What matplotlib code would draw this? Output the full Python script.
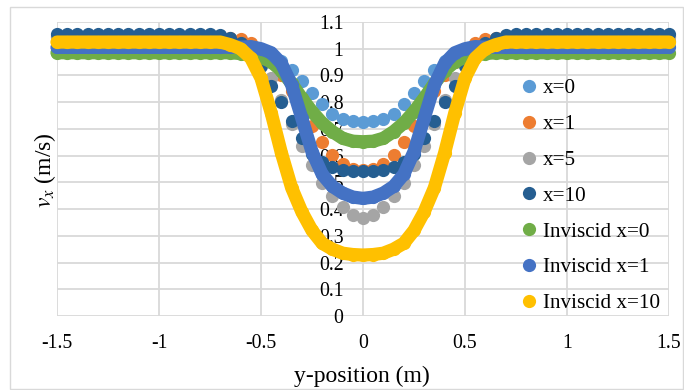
#!/usr/bin/env python3
"""Velocity profiles v_x across y-position, viscous vs inviscid"""

import numpy as np
import matplotlib
matplotlib.use("Agg")
import matplotlib.pyplot as plt
from matplotlib.patches import Rectangle

plt.rcParams['font.family'] = ['Liberation Serif', 'DejaVu Serif']
plt.rcParams['mathtext.fontset'] = 'stix'
plt.rcParams['axes.unicode_minus'] = False

# y-position samples (m), every 0.05 m
y_pos = np.round(np.arange(-1.5, 1.501, 0.05), 2)

# from y = -1.5 to 1.5
vx_x0 = [1.03, 1.03, 1.03, 1.03, 1.03, 1.03, 1.03, 1.03, 1.03, 1.03, 1.03, 1.03, 1.03, 1.03, 1.03,
         1.03, 1.027, 1.023, 1.018, 1.01, 0.997, 0.98, 0.955, 0.922, 0.881, 0.836, 0.792, 0.757, 0.738, 0.73,
         0.727,
         0.73, 0.738, 0.757, 0.792, 0.836, 0.881, 0.922, 0.955, 0.98, 0.997, 1.01, 1.018, 1.023, 1.027, 1.03,
         1.03, 1.03, 1.03, 1.03, 1.03, 1.03, 1.03, 1.03, 1.03, 1.03, 1.03, 1.03, 1.03, 1.03, 1.03]
vx_x1 = [1.048, 1.048, 1.048, 1.048, 1.048, 1.048, 1.048, 1.048, 1.048, 1.048, 1.048, 1.048, 1.048, 1.048, 1.048,
         1.048, 1.046, 1.042, 1.035, 1.02, 0.99, 0.95, 0.9, 0.84, 0.775, 0.71, 0.652, 0.602, 0.57, 0.55,
         0.547,
         0.55, 0.57, 0.602, 0.652, 0.71, 0.775, 0.84, 0.9, 0.95, 0.99, 1.02, 1.035, 1.042, 1.046, 1.048,
         1.048, 1.048, 1.048, 1.048, 1.048, 1.048, 1.048, 1.048, 1.048, 1.048, 1.048, 1.048, 1.048, 1.048, 1.048]
vx_x5 = [1.045, 1.045, 1.045, 1.045, 1.045, 1.045, 1.045, 1.045, 1.045, 1.045, 1.045, 1.045, 1.045, 1.045, 1.045,
         1.045, 1.04, 1.03, 1.015, 0.99, 0.95, 0.89, 0.81, 0.72, 0.635, 0.565, 0.498, 0.448, 0.409, 0.378,
         0.365,
         0.378, 0.409, 0.448, 0.498, 0.565, 0.635, 0.72, 0.81, 0.89, 0.95, 0.99, 1.015, 1.03, 1.04, 1.045,
         1.045, 1.045, 1.045, 1.045, 1.045, 1.045, 1.045, 1.045, 1.045, 1.045, 1.045, 1.045, 1.045, 1.045, 1.045]
vx_x10 = [1.055, 1.055, 1.055, 1.055, 1.055, 1.055, 1.055, 1.055, 1.055, 1.055, 1.055, 1.055, 1.055, 1.055, 1.055,
          1.055, 1.05, 1.04, 1.02, 0.985, 0.935, 0.862, 0.8, 0.73, 0.665, 0.605, 0.575, 0.558, 0.548, 0.544,
          0.542,
          0.544, 0.548, 0.558, 0.575, 0.605, 0.665, 0.73, 0.8, 0.862, 0.935, 0.985, 1.02, 1.04, 1.05, 1.055,
          1.055, 1.055, 1.055, 1.055, 1.055, 1.055, 1.055, 1.055, 1.055, 1.055, 1.055, 1.055, 1.055, 1.055, 1.055]
inv_x0 = [0.985, 0.985, 0.985, 0.985, 0.985, 0.985, 0.985, 0.985, 0.985, 0.985, 0.985, 0.985, 0.985, 0.985, 0.985,
          0.985, 0.985, 0.985, 0.982, 0.977, 0.968, 0.951, 0.918, 0.87, 0.815, 0.765, 0.722, 0.69, 0.665, 0.654,
          0.652,
          0.654, 0.665, 0.69, 0.722, 0.765, 0.815, 0.87, 0.918, 0.951, 0.968, 0.977, 0.982, 0.985, 0.985, 0.985,
          0.985, 0.985, 0.985, 0.985, 0.985, 0.985, 0.985, 0.985, 0.985, 0.985, 0.985, 0.985, 0.985, 0.985, 0.985]
inv_x1 = [1.005, 1.005, 1.005, 1.005, 1.005, 1.005, 1.005, 1.005, 1.005, 1.005, 1.005, 1.005, 1.005, 1.005, 1.005,
          1.005, 1.005, 1.006, 1.006, 1.008, 1.0, 0.985, 0.945, 0.865, 0.74, 0.615, 0.53, 0.485, 0.46, 0.445,
          0.44,
          0.445, 0.46, 0.485, 0.53, 0.615, 0.74, 0.865, 0.945, 0.985, 1.0, 1.008, 1.006, 1.006, 1.005, 1.005,
          1.005, 1.005, 1.005, 1.005, 1.005, 1.005, 1.005, 1.005, 1.005, 1.005, 1.005, 1.005, 1.005, 1.005, 1.005]
inv_x10 = [1.025, 1.025, 1.025, 1.025, 1.025, 1.025, 1.025, 1.025, 1.025, 1.025, 1.025, 1.025, 1.025, 1.025, 1.025,
           1.025, 1.025, 1.015, 1.0, 0.965, 0.89, 0.76, 0.61, 0.48, 0.39, 0.32, 0.272, 0.25, 0.235, 0.23,
           0.228,
           0.23, 0.235, 0.25, 0.272, 0.32, 0.39, 0.48, 0.61, 0.76, 0.89, 0.965, 1.0, 1.015, 1.025, 1.025,
           1.025, 1.025, 1.025, 1.025, 1.025, 1.025, 1.025, 1.025, 1.025, 1.025, 1.025, 1.025, 1.025, 1.025, 1.025]

viscous = [('x=0', vx_x0, '#5B9BD5'), ('x=1', vx_x1, '#ED7D31'),
           ('x=5', vx_x5, '#A5A5A5'), ('x=10', vx_x10, '#255E91')]
inviscid = [('Inviscid x=0', inv_x0, '#70AD47'), ('Inviscid x=1', inv_x1, '#4472C4'),
            ('Inviscid x=10', inv_x10, '#FFC000')]

x_ticks = [-1.5, -1, -0.5, 0, 0.5, 1, 1.5]
x_labels = ['-1.5', '-1', '-0.5', '0', '0.5', '1', '1.5']
y_ticks = [0, 0.1, 0.2, 0.3, 0.4, 0.5, 0.6, 0.7, 0.8, 0.9, 1, 1.1]
y_labels = ['0', '0.1', '0.2', '0.3', '0.4', '0.5', '0.6', '0.7', '0.8', '0.9', '1', '1.1']


def main():
    fig = plt.figure(figsize=(6.84, 3.90), dpi=100)
    ax = fig.add_axes([57 / 684, 74 / 390, 612 / 684, 294 / 390])

    # chart border
    fig.patches.append(Rectangle((10 / 684, 1 / 390), 673 / 684, 382 / 390,
                                 transform=fig.transFigure, fill=False,
                                 edgecolor='#D9D9D9', linewidth=1))

    grid_c = '#D9D9D9'
    for t in y_ticks:
        ax.axhline(t, color=grid_c, lw=1.3, zorder=0.5)
    for t in x_ticks:
        ax.axvline(t, color=grid_c, lw=1.3, zorder=0.5)

    ms = 9.5
    for label, vals, c in viscous:
        ax.plot(y_pos, vals, 'o', ms=ms, color=c, mec='none', label=label,
                zorder=2, clip_on=False)
    for label, vals, c in inviscid:
        ax.plot(y_pos, vals, '-', lw=ms, color=c, solid_capstyle='round',
                solid_joinstyle='round', zorder=2, clip_on=False)
        ax.plot(y_pos, vals, 'o', ms=ms, color=c, mec='none', label=label,
                zorder=2, clip_on=False)

    ax.set_xlim(-1.5, 1.5)
    ax.set_ylim(0, 1.1)
    ax.set_xticks(x_ticks)
    ax.set_xticklabels(x_labels)
    ax.set_yticks(y_ticks)
    ax.set_yticklabels(y_labels)
    ax.tick_params(axis='both', length=0, labelsize=14.3)
    ax.tick_params(axis='y', pad=14)
    ax.tick_params(axis='x', pad=13)
    ax.spines['left'].set_position(('data', 0))
    ax.spines['left'].set_visible(False)
    for s in ['top', 'right', 'bottom']:
        ax.spines[s].set_visible(False)

    fig.text(45 / 684, 1 - 170 / 390, r'$v_x$ (m/s)', rotation=90, fontsize=17,
             ha='center', va='center')
    fig.text(362 / 684, 1 - 376 / 390, 'y-position (m)', fontsize=17,
             ha='center', va='center')

    ax.legend(loc='upper left', bbox_to_anchor=(505 / 684, 1 - 68 / 390),
              bbox_transform=fig.transFigure, frameon=False, fontsize=15.2,
              handletextpad=0.0, handlelength=1.3, labelspacing=0.76,
              borderpad=0, markerscale=1.0)

    plt.savefig('out.png', dpi=100)


main()
